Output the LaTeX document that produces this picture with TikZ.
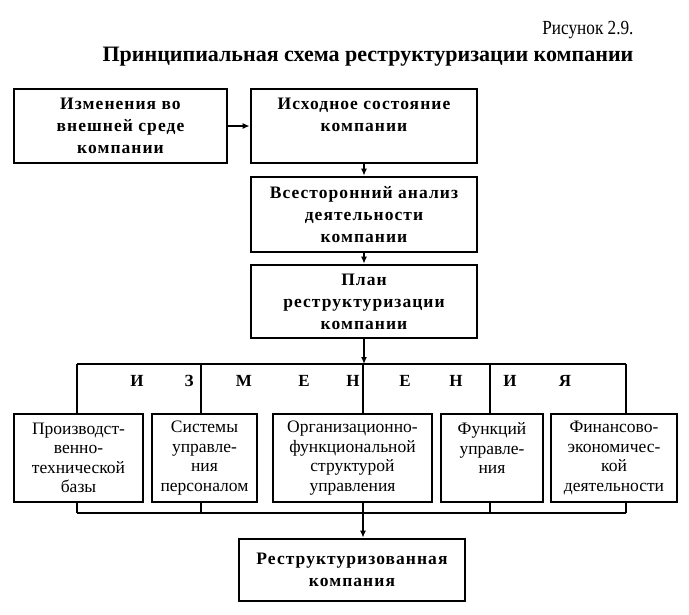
\documentclass[tikz,border=0pt]{standalone}
\usepackage{fontspec}
\setmainfont{Liberation Serif}
\newfontfamily\narrowserif[FakeStretch=0.86]{Liberation Serif}
\usetikzlibrary{arrows.meta, positioning}
\tikzstyle{line} = [draw, -{Latex[length=7pt,width=6pt]}, line width=1.3pt]
\tikzstyle{block} = [rectangle, draw, line width=2.8pt, align=center, inner sep=0pt,
  font=\fontsize{17.5}{22}\selectfont\bfseries\addfontfeature{LetterSpace=6}]
\tikzstyle{wblock} = [rectangle, draw, line width=2.8pt, align=center, inner sep=0pt,
  minimum height=88pt, font=\fontsize{17.5}{19.5}\selectfont]

\begin{document}
\begin{tikzpicture}[x=1pt,y=-1pt]

    \tikzstyle{bus} = [line width=1.5pt];
    \tikzstyle{letter} = [font=\fontsize{17}{20}\selectfont\bfseries];

    \useasboundingbox (0,0) rectangle (689,614);

    \node [anchor=east, font=\fontsize{20}{22}\narrowserif] at (637,30) (fig) {Рисунок 2.9.};
    \node [font=\fontsize{22}{24}\selectfont\bfseries] at (368,57) (title) {Принципиальная схема реструктуризации компании};

    \node [block, minimum width=213pt, minimum height=74pt] at (120.5,126) (extern) {Изменения во\\внешней среде\\компании};
    \node [block, minimum width=226pt, minimum height=74pt] at (364,126) (source) {Исходное состояние\\компании\\\mbox{}};
    \node [block, minimum width=226pt, minimum height=75pt] at (364,214.5) (analysis) {Всесторонний анализ\\деятельности\\компании};
    \node [block, minimum width=226pt, minimum height=73pt] at (364,301.5) (plan) {План\\реструктуризации\\компании};

    \draw [line] (extern) -- (source);
    \draw [line] (source) -- (analysis);
    \draw [line] (analysis) -- (plan);

    % bus of changes
    \foreach \x [count=\i] in {77,201,363,490,626} {
        \coordinate (k\i) at (\x,364);
        \coordinate (m\i) at (\x,513);
    }
    \draw [line] (plan) -- (plan |- k3);

    \foreach \x/\l [count=\i] in {137/И, 189/З, 244/М, 304/Е, 353/Н, 405/Е, 456/Н, 510/И, 565/Я}
        \node [letter] at (\x,381) (l\i) {\l};

    \node [wblock, minimum width=129pt] at (78.5,458) (p1) {Производст-\\венно-\\технической\\базы};
    \node [wblock, minimum width=105pt] at (204.5,458) (p2) {Системы\\управле-\\ния\\персоналом};
    \node [wblock, minimum width=159pt] at (352.5,458) (p3) {Организационно-\\функциональной\\структурой\\управления};
    \node [wblock, minimum width=102pt] at (492,458) (p4) {Функций\\управле-\\ния\\\mbox{}};
    \node [wblock, minimum width=126pt] at (614,458) (p5) {Финансово-\\экономичес-\\кой\\деятельности};

    \draw [bus] (k1) -- (k5);
    \draw [bus] (m1) -- (m5);
    \foreach \i in {1,...,5} {
        \draw [bus] (k\i) -- (k\i |- p\i.north);
        \draw [bus] (m\i) -- (m\i |- p\i.south);
    }

    \node [block, minimum width=226pt, minimum height=62pt] at (352,570) (result) {Реструктуризованная\\компания};
    \draw [line] (m3) -- (m3 |- result.north);

\end{tikzpicture}
\end{document}
